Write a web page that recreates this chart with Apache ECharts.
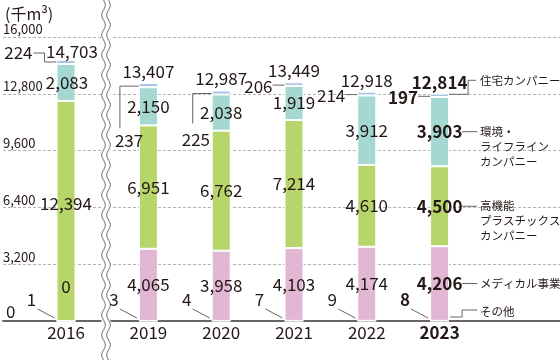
<!DOCTYPE html>
<html><head><meta charset="utf-8">
<script src="https://cdn.jsdelivr.net/npm/echarts@6/dist/echarts.min.js"></script>
<style>html,body{margin:0;padding:0;background:#fff}#c{width:560px;height:360px}</style>
</head><body><div id="c"></div>
<script>
// ---- data ----
const years = ['2016', '2019', '2020', '2021', '2022', '2023'];
const other = [1, 3, 4, 7, 9, 8];
const medical = [0, 4065, 3958, 4103, 4174, 4206];
const plastics = [12394, 6951, 6762, 7214, 4610, 4500];
const environment = [2083, 2150, 2038, 1919, 3912, 3903];
const housing = [224, 237, 225, 206, 214, 197];
const totals = [14703, 13407, 12987, 13449, 12918, 12814];
const seriesNames = ['その他', 'メディカル事業', '高機能プラスチックスカンパニー', '環境・ライフラインカンパニー', '住宅カンパニー'];
const sideLabels = ['その他', 'メディカル事業', '高機能\nプラスチックス\nカンパニー', '環境・\nライフライン\nカンパニー', '住宅カンパニー'];
const unitLabel = '(千m³)';
const yMax = 16000, yStep = 3200;

// ---- style ----
const FONT = '"Noto Sans CJK JP", "Noto Sans", sans-serif';
const INK = '#231815';
const LINE = '#6b6461';
const colors = ['#e2b7d4', '#e2b7d4', '#b6d56b', '#a4d8d1', '#a9c4e6'];
const BW = 19;
const fmt = v => v.toLocaleString('en-US');
const rich = {
  n: { fontSize: 17, fontFamily: FONT, color: INK },
  b: { fontSize: 17, fontFamily: FONT, color: INK, fontWeight: 'bold' }
};
const lastIdx = years.length - 1;
const wrap = (i, s) => (i === lastIdx ? '{b|' + s + '}' : '{n|' + s + '}');

const chart = echarts.init(document.getElementById('c'), null, { renderer: 'canvas' });

const arrays = [other, medical, plastics, environment, housing];
const series = [];
[1, 2].forEach(g => {
  const off = g === 1 ? 0 : 1;
  const sl = a => (g === 1 ? a.slice(0, 1) : a.slice(1));
  arrays.forEach((arr, k) => {
    let label = { show: false };
    if (k === 1 || k === 2 || k === 3) {
      label = {
        show: true, position: 'inside', rich,
        formatter: p => wrap(p.dataIndex + off, fmt(p.value))
      };
      if (g === 1 && k === 1) label.offset = [0, -34];
      if (g === 1 && k === 2) label.offset = [0, -7];
      if (g === 1 && k === 3) label.offset = [1, 0];
    } else if (k === 4) {
      label = {
        show: true, position: 'top', distance: 3, rich,
        formatter: p => wrap(p.dataIndex + off, fmt(totals[p.dataIndex + off]))
      };
      if (g === 1) label.offset = [6, 3];
    }
    series.push({
      name: seriesNames[k], type: 'bar', stack: 'g' + g,
      xAxisIndex: g, yAxisIndex: g, barWidth: BW,
      data: sl(arr),
      itemStyle: { color: colors[k], borderColor: '#fff', borderWidth: 1 },
      label, emphasis: { disabled: true }
    });
  });
});

const hiddenY = idx => ({ type: 'value', gridIndex: idx, min: 0, max: yMax, interval: yStep, show: false });
const catX = (idx, cats) => ({
  type: 'category', gridIndex: idx, data: cats,
  axisLine: { show: false }, axisTick: { show: false },
  axisLabel: { margin: 3, rich, formatter: v => (v === years[lastIdx] ? '{b|' + v + '}' : '{n|' + v + '}') }
});

chart.setOption({
  animation: false,
  backgroundColor: '#fff',
  grid: [
    { left: 0, right: 0, top: 37, bottom: 39 },
    { left: 30, width: 72, top: 37, bottom: 39 },
    { left: 112, width: 364, top: 37, bottom: 39 }
  ],
  xAxis: [
    { type: 'value', gridIndex: 0, min: 0, max: 1,
      axisLine: { show: true, lineStyle: { color: LINE, width: 2 } },
      axisTick: { show: false }, axisLabel: { show: false }, splitLine: { show: false } },
    catX(1, years.slice(0, 1)),
    catX(2, years.slice(1))
  ],
  yAxis: [
    { type: 'value', gridIndex: 0, min: 0, max: yMax, interval: yStep,
      name: unitLabel, nameLocation: 'end', nameGap: 15,
      nameTextStyle: { align: 'left', fontSize: 16, fontFamily: FONT, color: INK, padding: [0, 0, 0, 2] },
      axisLine: { show: false }, axisTick: { show: false },
      axisLabel: {
        inside: true, margin: 0, verticalAlign: 'bottom', padding: [0, 0, 1, 0],
        color: INK, fontFamily: FONT, fontSize: 13,
        formatter: v => (v === 0 ? '{z|0}' : '{t|' + fmt(v) + '}'),
        rich: { t: { fontSize: 13, fontFamily: FONT, color: INK }, z: { fontSize: 17, fontFamily: FONT, color: INK, padding: [0, 0, 0, 3] } }
      },
      splitLine: { show: true, lineStyle: { color: '#b5b5b5', width: 1, type: [3, 2] } } },
    hiddenY(1), hiddenY(2)
  ],
  series
});

// ---- annotations computed from the chart's own scales ----
function px(i, v) {
  const g = i === 0 ? 1 : 2;
  return chart.convertToPixel({ xAxisIndex: g, yAxisIndex: g }, [years[i], v]);
}
const g = [];
const txt = (x, y, s, align, bold, extra) => g.push(Object.assign({
  type: 'text', x, y, z: 100,
  style: { text: s, fill: INK, font: (bold ? 'bold ' : '') + '17px ' + FONT,
           align: align, verticalAlign: 'middle', textAlign: align, textVerticalAlign: 'middle' }
}, extra || {}));
const pl = pts => g.push({ type: 'polyline', z: 99, shape: { points: pts }, style: { stroke: LINE, lineWidth: 1, fill: null } });

years.forEach((yr, i) => {
  const c0 = other[i], c1 = c0 + medical[i], c2 = c1 + plastics[i], c3 = c2 + environment[i], c4 = c3 + housing[i];
  const base = px(i, 0);
  const L = base[0] - BW / 2;
  const by = base[1];
  const bold = i === lastIdx;
  // その他 value with diagonal leader
  txt(L - 25, by - 21, fmt(other[i]), 'center', bold);
  pl([[L - 19, by - 12], [L - 2, by - 3]]);
  // 住宅 value
  const yb = (px(i, c3)[1] + px(i, c4)[1]) / 2;
  if (i === 0) {
    txt(L - 24, yb - 9, fmt(housing[i]), 'right', false);
    pl([[L - 23, yb - 9], [L - 12, yb - 9], [L - 12, yb], [L, yb]]);
  } else if (i === 1) {
    pl([[L, yb + 1], [L - 19, yb + 1], [L - 19, yb + 43]]);
    txt(L - 24, yb + 55, fmt(housing[i]), 'left', false);
  } else if (i === 2) {
    pl([[L, yb + 1], [L - 19, yb + 1], [L - 19, yb + 31]]);
    txt(L - 30, yb + 47, fmt(housing[i]), 'left', false);
  } else {
    txt(L - 12, yb + 2, fmt(housing[i]), 'right', bold);
    pl([[L - 12, yb + 1], [L, yb + 1]]);
  }
  if (i === lastIdx) {
    const R = base[0] + BW / 2;
    const small = (x, y, s, top) => g.push({
      type: 'text', x, y, z: 100,
      style: { text: s, fill: INK, font: '11.5px ' + FONT, lineHeight: 15,
               align: 'left', verticalAlign: top ? 'top' : 'middle', textAlign: 'left', textVerticalAlign: top ? 'top' : 'middle' }
    });
    // 住宅
    pl([[R, yb - 1], [R + 19, yb - 1], [R + 19, yb - 15], [R + 27, yb - 15]]);
    small(R + 31, yb - 15, sideLabels[4]);
    // 環境
    const ye = (px(i, c2)[1] + px(i, c3)[1]) / 2;
    pl([[R + 13, ye], [R + 28, ye]]);
    small(R + 31, ye - 8, sideLabels[3], true);
    // 高機能
    const yp = (px(i, c1)[1] + px(i, c2)[1]) / 2;
    pl([[R + 13, yp], [R + 28, yp]]);
    small(R + 31, yp - 8, sideLabels[2], true);
    // メディカル
    const ym = (px(i, c0)[1] + px(i, c1)[1]) / 2;
    pl([[R + 13, ym], [R + 28, ym]]);
    small(R + 31, ym, sideLabels[1]);
    // その他
    pl([[R + 1, by - 4], [R + 13, by - 4], [R + 13, by - 11], [R + 28, by - 11]]);
    small(R + 31, by - 9, sideLabels[0]);
  }
});

// axis break (decoration)
const bx = 103.5;
g.push({ type: 'rect', z: 98, shape: { x: bx - 2, y: 0, width: 9, height: 360 }, style: { fill: '#fff' } });
[bx, bx + 5].forEach(x0 => {
  const pts = [];
  for (let y = 0; y <= 360; y += 1) pts.push([x0 + 1.8 * Math.sin(y / 20 * 2 * Math.PI), y]);
  g.push({ type: 'polyline', z: 99, shape: { points: pts }, style: { stroke: LINE, lineWidth: 0.9, fill: null } });
});

chart.setOption({ graphic: g });
</script></body></html>
